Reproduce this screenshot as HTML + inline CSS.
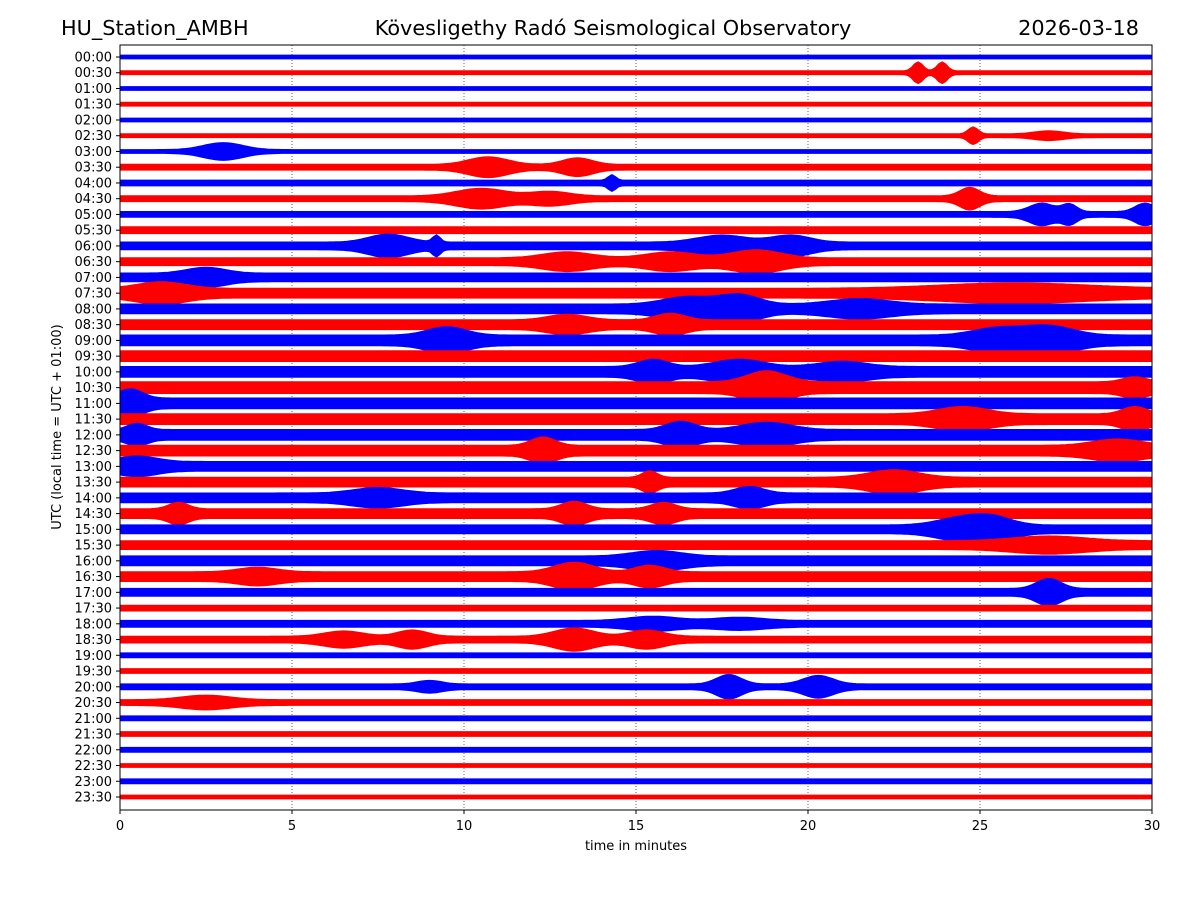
<!DOCTYPE html>
<html><head><meta charset="utf-8"><style>
html,body{margin:0;padding:0;background:#fff;}
svg{display:block;font-family:"DejaVu Sans","Liberation Sans",sans-serif;}
</style></head><body>
<svg id="chart" width="1200" height="900" viewBox="0 0 1200 900">
<text x="61" y="35" font-size="20.8">HU_Station_AMBH</text>
<text x="613" y="35" font-size="20.8" text-anchor="middle">Kövesligethy Radó Seismological Observatory</text>
<text x="1139" y="35" font-size="20.8" text-anchor="end">2026-03-18</text>
<g id="grid"></g>
<g id="traces"></g>
<rect x="120" y="45" width="1032" height="765" fill="none" stroke="#000" stroke-width="1"/>
<g id="axes"></g>
<text x="636" y="850" font-size="13" text-anchor="middle">time in minutes</text>
<text transform="translate(61,427) rotate(-90)" font-size="13" text-anchor="middle">UTC (local time = UTC + 01:00)</text>
</svg>
<script>
const rowLabels = [];
for (let h = 0; h < 24; h++) { const hh = String(h).padStart(2,'0'); rowLabels.push(hh+':00', hh+':30'); }
const xTicks = [0,5,10,15,20,25,30];
const baseAmp = [2,2,2,2,2,2,2,3,3,3,3,3.5,4,4,4.5,5,5,5,5.5,5.5,5.5,6,5.5,5.5,5.5,5.5,5,5,5,5,4.5,4.5,5,5,4,3,3.5,3.5,2.5,2.5,3,3,2.5,2.5,2.5,2,2.5,2];
// [row, minute, amplitude(px), half-width(min)]
const events = [[1,23.2,10,0.2],[1,23.9,10,0.2],[5,24.8,8,0.2],[5,27,4,0.6],[6,3,8,0.8],[7,10.7,9,0.8],[7,13.3,8,0.6],[8,14.3,7,0.15],[9,10.5,9,1],[9,12.5,6,0.8],[9,24.7,10,0.4],[10,26.8,10,0.5],[10,27.6,9,0.3],[10,29.8,10,0.4],[12,7.8,10,0.8],[12,9.2,9,0.15],[12,17.5,9,1],[12,19.5,9,0.8],[13,13,8,1],[13,16,8,1],[13,18.5,10,1],[14,2.5,8,0.8],[15,1.2,9,1],[15,26,8,3],[16,16.5,10,1],[16,18,12,0.8],[16,21.5,8,1.2],[17,13,8,0.8],[17,16,9,0.6],[18,9.5,11,0.8],[18,27,12,1],[18,25.5,10,1],[20,15.5,10,0.6],[20,18,10,1],[20,21,8,1],[21,18.8,14,0.8],[21,29.5,8,0.5],[22,0.3,12,0.5],[23,24.5,10,1],[23,29.5,10,0.5],[24,16.3,11,0.6],[24,18.8,10,1],[24,0.5,9,0.4],[25,12.3,11,0.5],[25,29,9,1],[26,0.5,8,0.8],[27,22.5,10,1],[27,15.4,9,0.3],[28,7.5,8,1],[28,18.3,9,0.6],[29,1.7,9,0.4],[29,13.2,10,0.5],[29,15.8,9,0.5],[30,24.5,10,1],[30,25.4,9,0.8],[31,27,7,1.5],[32,15.6,8,1],[33,13.2,12,0.8],[33,15.4,9,0.6],[33,4,7,0.8],[34,27,12,0.5],[37,6.5,7,0.8],[37,8.5,8,0.6],[37,13.2,10,0.8],[37,15.3,8,0.7],[40,17.7,11,0.5],[40,20.3,10,0.6],[40,9,5,0.5],[41,2.5,6,1],[36,15.5,6,1],[36,18,5,1]];

const NS='http://www.w3.org/2000/svg';
const X0=120,X1=1152,Y0=57,Y1=797;
const xScale = m => X0 + (m/30)*(X1-X0);
const yScale = r => Y0 + r*(Y1-Y0)/(rowLabels.length-1);
const grid=document.getElementById('grid'), traces=document.getElementById('traces'), axes=document.getElementById('axes');

xTicks.forEach(t=>{
  const x=xScale(t);
  if(t>0&&t<30){
    const g=document.createElementNS(NS,'line');
    g.setAttribute('x1',x);g.setAttribute('x2',x);g.setAttribute('y1',45);g.setAttribute('y2',810);
    g.setAttribute('stroke','#000');g.setAttribute('stroke-width','0.6');g.setAttribute('stroke-dasharray','1,2');
    
    
    grid.appendChild(g);
  }
  const tk=document.createElementNS(NS,'line');
  tk.setAttribute('x1',x);tk.setAttribute('x2',x);tk.setAttribute('y1',810);tk.setAttribute('y2',814);tk.setAttribute('stroke','#000');
  
  
  axes.appendChild(tk);
  const tl=document.createElementNS(NS,'text');
  tl.setAttribute('x',x);tl.setAttribute('y',830);tl.setAttribute('font-size','13');tl.setAttribute('text-anchor','middle');
  tl.textContent=t;
  
  
  axes.appendChild(tl);
});

rowLabels.forEach((lab,r)=>{
  const y=yScale(r);
  const tk=document.createElementNS(NS,'line');
  tk.setAttribute('x1',116);tk.setAttribute('x2',120);tk.setAttribute('y1',y);tk.setAttribute('y2',y);tk.setAttribute('stroke','#000');
  
  
  axes.appendChild(tk);
  const tl=document.createElementNS(NS,'text');
  tl.setAttribute('x',112);tl.setAttribute('y',y+4.5);tl.setAttribute('font-size','13');tl.setAttribute('text-anchor','end');
  tl.textContent=lab;
  
  
  axes.appendChild(tl);

  const color = r%2===0 ? '#0000ff' : '#ff0000';
  const rowEv = events.filter(e=>e[0]===r);
  const top=[],bot=[];
  for(let m=0;m<=30.0001;m+=0.1){
    let a=baseAmp[r];
    rowEv.forEach(e=>{const d=(m-e[1])/e[3]; a+=(e[2]-baseAmp[r]*0.5)*Math.exp(-d*d);});
    top.push(xScale(m).toFixed(1)+','+(y-a).toFixed(1));
    bot.unshift(xScale(m).toFixed(1)+','+(y+a).toFixed(1));
  }
  const p=document.createElementNS(NS,'polygon');
  p.setAttribute('points',top.concat(bot).join(' '));
  p.setAttribute('fill',color);p.setAttribute('stroke',color);p.setAttribute('stroke-width','0.8');
  
  
  traces.appendChild(p);
});
</script>
</body></html>
